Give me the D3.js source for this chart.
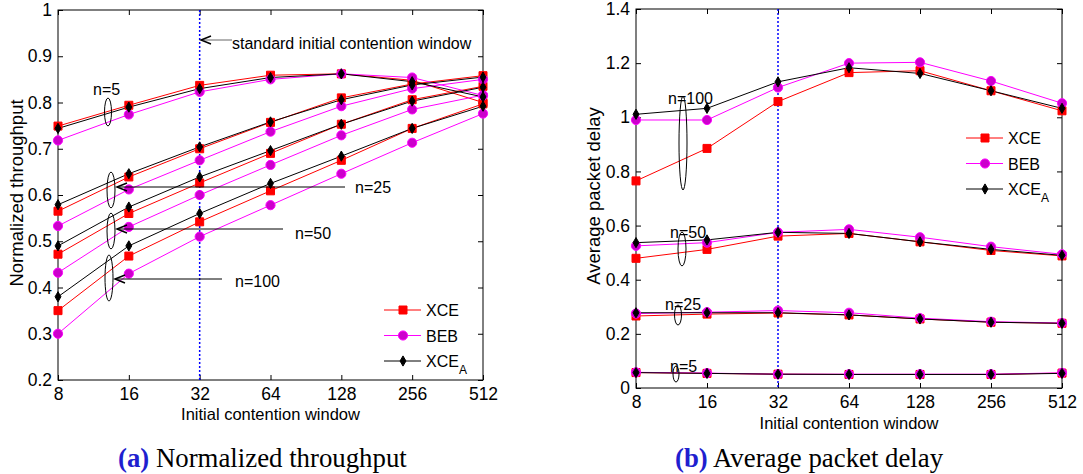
<!DOCTYPE html>
<html>
<head>
<meta charset="utf-8">
<script src="https://cdnjs.cloudflare.com/ajax/libs/d3/7.8.5/d3.min.js"></script>
<style>
  body { margin: 0; background: #fff; }
  svg text { font-family: "Liberation Sans", Arial, sans-serif; fill: #000; }
</style>
</head>
<body>
<div id="chart"></div>
<script>
var windows = [8, 16, 32, 64, 128, 256, 512];
var groups = ["n=5", "n=25", "n=50", "n=100"];
var seriesNames = ["XCE", "BEB", "XCEA"];

// normalized throughput, one row per n (5, 25, 50, 100)
var tputXCE = [
    [0.749, 0.794, 0.837, 0.859, 0.862, 0.848, 0.800],
    [0.565, 0.639, 0.700, 0.757, 0.810, 0.840, 0.858],
    [0.472, 0.560, 0.626, 0.690, 0.753, 0.806, 0.835],
    [0.350, 0.468, 0.542, 0.609, 0.675, 0.744, 0.797]
];
var tputBEB = [
    [0.718, 0.774, 0.823, 0.850, 0.862, 0.854, 0.815],
    [0.533, 0.612, 0.675, 0.737, 0.792, 0.830, 0.850],
    [0.432, 0.531, 0.600, 0.665, 0.729, 0.785, 0.816],
    [0.300, 0.430, 0.510, 0.578, 0.646, 0.713, 0.776]
];
var tputXCEA = [
    [0.744, 0.790, 0.830, 0.854, 0.862, 0.845, 0.812],
    [0.579, 0.646, 0.704, 0.758, 0.806, 0.838, 0.855],
    [0.490, 0.574, 0.639, 0.696, 0.753, 0.803, 0.833],
    [0.380, 0.490, 0.560, 0.625, 0.684, 0.744, 0.792]
];

// average packet delay
var delayXCE = [
    [0.057, 0.054, 0.051, 0.050, 0.050, 0.050, 0.055],
    [0.266, 0.273, 0.277, 0.270, 0.255, 0.243, 0.239],
    [0.479, 0.512, 0.561, 0.571, 0.540, 0.508, 0.488],
    [0.765, 0.885, 1.058, 1.165, 1.172, 1.098, 1.024]
];
var delayBEB = [
    [0.058, 0.055, 0.051, 0.051, 0.051, 0.051, 0.056],
    [0.275, 0.280, 0.286, 0.278, 0.258, 0.245, 0.240],
    [0.525, 0.537, 0.575, 0.586, 0.557, 0.522, 0.494],
    [0.990, 0.990, 1.110, 1.200, 1.203, 1.134, 1.052]
];
var delayXCEA = [
    [0.057, 0.054, 0.051, 0.050, 0.050, 0.050, 0.054],
    [0.278, 0.278, 0.278, 0.270, 0.255, 0.243, 0.239],
    [0.537, 0.547, 0.575, 0.571, 0.540, 0.512, 0.490],
    [1.011, 1.033, 1.131, 1.183, 1.162, 1.098, 1.033]
];

var tputTicks = [0.2, 0.3, 0.4, 0.5, 0.6, 0.7, 0.8, 0.9, 1];
var delayTicks = [0, 0.2, 0.4, 0.6, 0.8, 1, 1.2, 1.4];

var styles = {
    XCE:  { line: "#ff0000", fill: "#ff0000", stroke: "#ff0000", sym: d3.symbolSquare, size: 64 },
    BEB:  { line: "#ff00ff", fill: "#cc00cc", stroke: "#ff00ff", sym: d3.symbolCircle, size: 66 },
    XCEA: { line: "#000000", fill: "#000000", stroke: "#000000", sym: d3.symbolDiamond, size: 30 }
};

var svg = d3.select("#chart").append("svg").attr("width", 1083).attr("height", 474);

function drawPanel(cfg) {
    var x = d3.scaleLog().base(2).domain([8, 512]).range([cfg.left, cfg.right]);
    var y = d3.scaleLinear().domain(cfg.ydomain).range([cfg.bottom, cfg.top]);
    var g = svg.append("g");

    // frame
    g.append("rect").attr("x", cfg.left).attr("y", cfg.top)
        .attr("width", cfg.right - cfg.left).attr("height", cfg.bottom - cfg.top)
        .attr("fill", "none").attr("stroke", "#000").attr("stroke-width", 1);

    var fmt = function(d) { return String(d); };
    g.append("g").attr("transform", "translate(0," + cfg.bottom + ")")
        .call(d3.axisBottom(x).tickValues(windows).tickSizeInner(-5).tickSizeOuter(0).tickPadding(8).tickFormat(fmt));
    g.append("g").attr("transform", "translate(0," + cfg.top + ")")
        .call(d3.axisTop(x).tickValues(windows).tickSizeInner(-5).tickSizeOuter(0).tickFormat(""));
    g.append("g").attr("transform", "translate(" + cfg.left + ",0)")
        .call(d3.axisLeft(y).tickValues(cfg.yticks).tickSizeInner(-5).tickSizeOuter(0).tickPadding(6).tickFormat(fmt));
    g.append("g").attr("transform", "translate(" + cfg.right + ",0)")
        .call(d3.axisRight(y).tickValues(cfg.yticks).tickSizeInner(-5).tickSizeOuter(0).tickFormat(""));
    g.selectAll(".domain").remove();
    g.selectAll(".tick text").style("font-size", "17.5px").style("font-family", "Liberation Sans, Arial, sans-serif");

    // standard CW marker
    g.append("line").attr("x1", x(32)).attr("x2", x(32)).attr("y1", cfg.top).attr("y2", cfg.bottom)
        .attr("stroke", "#0000ff").attr("stroke-width", 1.5).attr("stroke-dasharray", "2,2");

    var line = d3.line().x(function(d, i) { return x(windows[i]); }).y(function(d) { return y(d); });
    seriesNames.forEach(function(s) {
        var st = styles[s];
        cfg.data[s].forEach(function(row) {
            g.append("path").datum(row).attr("d", line)
                .attr("fill", "none").attr("stroke", st.line).attr("stroke-width", 1);
        });
    });
    seriesNames.forEach(function(s) {
        var st = styles[s];
        cfg.data[s].forEach(function(row) {
            g.selectAll(null).data(row).enter().append("path")
                .attr("d", d3.symbol().type(st.sym).size(st.size))
                .attr("transform", function(d, i) { return "translate(" + x(windows[i]) + "," + y(d) + ")"; })
                .attr("fill", st.fill).attr("stroke", st.stroke).attr("stroke-width", 1);
        });
    });

    // axis titles
    g.append("text").attr("x", (cfg.left + cfg.right) / 2).attr("y", cfg.xtitleY)
        .attr("text-anchor", "middle").style("font-size", "16.5px").text("Initial contention window");
    g.append("text").attr("transform", "translate(" + cfg.ytitleX + "," + cfg.ytitleY + ") rotate(-90)")
        .attr("text-anchor", "middle").style("font-size", "18.5px").text(cfg.ytitle);

    // legend
    seriesNames.forEach(function(s, i) {
        var st = styles[s];
        var ly = cfg.legY + i * 25.5;
        g.append("line").attr("x1", cfg.legX).attr("x2", cfg.legX + 37).attr("y1", ly).attr("y2", ly)
            .attr("stroke", st.line).attr("stroke-width", 1);
        g.append("path").attr("d", d3.symbol().type(st.sym).size(st.size))
            .attr("transform", "translate(" + (cfg.legX + 19) + "," + ly + ")")
            .attr("fill", st.fill).attr("stroke", st.stroke);
        var t = g.append("text").attr("x", cfg.legX + 42).attr("y", ly + 6).style("font-size", "16px");
        if (s === "XCEA") {
            t.append("tspan").text("XCE");
            t.append("tspan").attr("dy", 7).style("font-size", "12px").text("A");
        } else {
            t.text(s);
        }
    });

    // group annotations
    cfg.notes.forEach(function(n) {
        g.append("ellipse").attr("cx", n.ex).attr("cy", n.ey).attr("rx", n.rx).attr("ry", n.ry)
            .attr("fill", "none").attr("stroke", "#000").attr("stroke-width", 1);
        if (n.arrow) {
            g.append("line").attr("x1", n.arrow[0]).attr("x2", n.ex + 6).attr("y1", n.arrow[1]).attr("y2", n.arrow[1])
                .attr("stroke", "#000").attr("stroke-width", 1);
            g.append("path").attr("d", "M" + (n.ex + 16) + "," + (n.arrow[1] - 4) + " L" + (n.ex + 6) + "," + n.arrow[1] +
                " L" + (n.ex + 16) + "," + (n.arrow[1] + 4))
                .attr("fill", "none").attr("stroke", "#000").attr("stroke-width", 1.5);
        }
        g.append("text").attr("x", n.tx).attr("y", n.ty).style("font-size", "16px").text(n.label);
    });

    return { x: x, y: y, g: g };
}

var left = drawPanel({
    left: 58, right: 483, top: 10, bottom: 380,
    ydomain: [0.2, 1], yticks: tputTicks,
    data: { XCE: tputXCE, BEB: tputBEB, XCEA: tputXCEA },
    xtitleY: 420, ytitleX: 23, ytitleY: 193, ytitle: "Normalized throughput",
    legX: 384, legY: 310,
    notes: [
        { label: groups[0], tx: 93, ty: 95, ex: 108, ey: 112, rx: 3.5, ry: 14 },
        { label: groups[1], tx: 355, ty: 193, ex: 111, ey: 190, rx: 4, ry: 18, arrow: [345, 187] },
        { label: groups[2], tx: 295, ty: 239, ex: 111, ey: 231, rx: 4, ry: 18, arrow: [283, 229] },
        { label: groups[3], tx: 235, ty: 287, ex: 109, ey: 278, rx: 4, ry: 23, arrow: [222, 279] }
    ]
});

// pointer to the standard window line
left.g.append("line").attr("x1", 232).attr("x2", 201).attr("y1", 40).attr("y2", 40)
    .attr("stroke", "#666").attr("stroke-width", 1);
left.g.append("path").attr("d", "M211,36 L201,40 L211,44").attr("fill", "none").attr("stroke", "#000").attr("stroke-width", 1.5);
left.g.append("text").attr("x", 232).attr("y", 49).style("font-size", "16px").text("standard initial contention window");

drawPanel({
    left: 636, right: 1062, top: 9, bottom: 388,
    ydomain: [0, 1.4], yticks: delayTicks,
    data: { XCE: delayXCE, BEB: delayBEB, XCEA: delayXCEA },
    xtitleY: 429, ytitleX: 600, ytitleY: 196, ytitle: "Average packet delay",
    legX: 966, legY: 138,
    notes: [
        { label: groups[3], tx: 668, ty: 104, ex: 683, ey: 143, rx: 4, ry: 47 },
        { label: groups[2], tx: 670, ty: 238, ex: 682, ey: 249, rx: 4, ry: 17 },
        { label: groups[1], tx: 665, ty: 310, ex: 678, ey: 315, rx: 3.5, ry: 10 },
        { label: groups[0], tx: 670, ty: 372, ex: 676, ey: 374, rx: 3, ry: 8 }
    ]
});

// captions
var cap = [
    { tag: "(a)", text: " Normalized throughput", x: 118 },
    { tag: "(b)", text: " Average packet delay", x: 675 }
];
cap.forEach(function(c) {
    var t = svg.append("text").attr("x", c.x).attr("y", 467)
        .style("font-family", "Liberation Serif, 'Times New Roman', serif").style("font-size", "26.8px");
    t.append("tspan").style("font-weight", "bold").style("fill", "#1f1fcf").text(c.tag);
    t.append("tspan").text(c.text);
});
</script>
</body>
</html>
